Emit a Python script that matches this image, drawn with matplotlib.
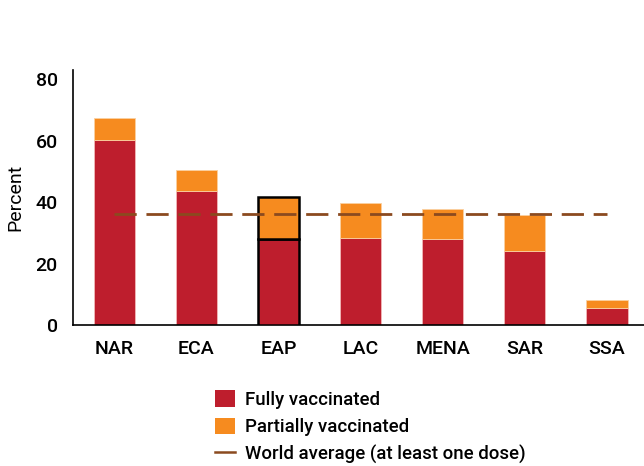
"""Vaccination coverage by region, stacked bars with world average."""

import matplotlib
matplotlib.use('Agg')
from matplotlib import pyplot as plot
from matplotlib.lines import Line2D
from matplotlib.patches import Patch

regions = ['NAR', 'ECA', 'EAP', 'LAC', 'MENA', 'SAR', 'SSA']
fully = [60.3, 43.7, 28.0, 28.3, 28.1, 24.2, 5.6]
total = [67.3, 50.4, 41.5, 39.8, 37.6, 35.7, 8.1]
partially = [t - f for t, f in zip(total, fully)]
world_average = 36.2
highlight = 'EAP'

red = '#BE1E2D'
orange = '#F68B1F'
brown = '#8B4A1F'

plot.rcParams['font.family'] = ['Roboto', 'DejaVu Sans']
plot.rcParams['font.weight'] = 'medium'

figure = plot.figure(figsize=(6.44, 4.66), dpi=100)
figure.set_facecolor('white')
ax = figure.add_axes([0.1134, 0.3026, 0.8866, 0.5472])

x = list(range(len(regions)))
ax.bar(x, fully, width=0.5, color=red, edgecolor='#F2B8B8', lw=0.6, zorder=2)
ax.bar(x, partially, bottom=fully, width=0.5, color=orange, edgecolor='#FAD0A0', lw=0.6, zorder=2)

# highlighted region gets a black outline
i = regions.index(highlight)
ax.bar([i], [fully[i]], width=0.5, color=red, edgecolor='black', lw=1.8, zorder=3)
ax.bar([i], [partially[i]], bottom=[fully[i]], width=0.5, color=orange, edgecolor='black', lw=1.8, zorder=3)

ax.plot([x[0], x[-1]], [world_average, world_average], color=brown, lw=2,
        dashes=(8, 3.5), zorder=4)

ax.set_xlim(-0.5, 6.45)
ax.set_ylim(0, 83)
ax.set_yticks([0, 20, 40, 60, 80])
ax.set_xticks(x)
ax.set_xticklabels(regions)
ax.tick_params(axis='both', which='both', length=0, labelsize=14)
ax.tick_params(axis='x', pad=11)
ax.tick_params(axis='y', pad=11)
for side in 'top', 'right':
    ax.spines[side].set_visible(False)
for side in 'left', 'bottom':
    ax.spines[side].set_color('black')
    ax.spines[side].set_linewidth(1.2)
ax.set_ylabel('Percent', fontsize=14, labelpad=8)

handles = [
    Patch(facecolor=red, edgecolor='none', label='Fully vaccinated'),
    Patch(facecolor=orange, edgecolor='none', label='Partially vaccinated'),
    Line2D([], [], color=brown, lw=1.8, label='World average (at least one dose)'),
]
figure.legend(handles=handles, loc='upper left', bbox_to_anchor=(0.322, 0.178),
              frameon=False, fontsize=13.4, handlelength=1.1, handleheight=1.0,
              handletextpad=0.5, labelspacing=0.45, borderaxespad=0)

figure.savefig('out.png', dpi=100)
